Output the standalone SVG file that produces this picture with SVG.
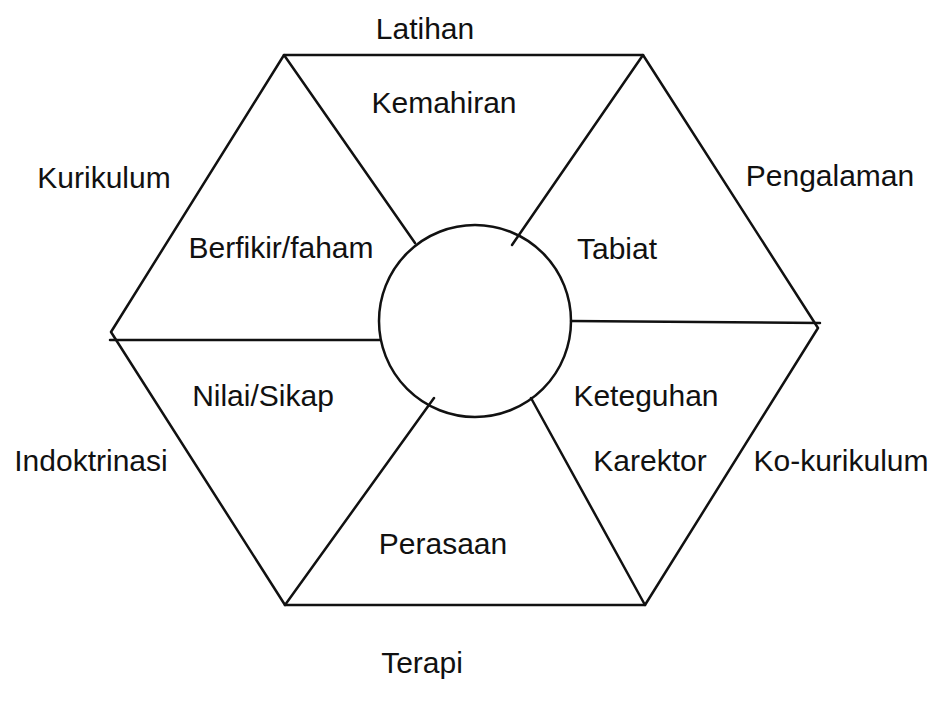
<svg xmlns="http://www.w3.org/2000/svg" width="947" height="704" viewBox="0 0 947 704">
<style>
.ln{stroke:#111;stroke-width:2.5;fill:none;stroke-linecap:round;stroke-linejoin:round}
.t{font-family:"Liberation Sans",Arial,sans-serif;font-size:30px;fill:#111;text-anchor:middle}
</style>
<rect width="947" height="704" fill="#fff"/>
<g id="hexagon">
<polygon class="ln" points="284,55 643,55 818,328 645,605 285,605 111,332"/>
</g>
<g id="centre">
<circle class="ln" cx="475" cy="321" r="96"/>
</g>
<g id="connectors">
<line class="ln" x1="284" y1="55" x2="415" y2="243"/>
<line class="ln" x1="643" y1="55" x2="512" y2="245"/>
<line class="ln" x1="571" y1="321" x2="820" y2="323"/>
<line class="ln" x1="110" y1="340" x2="380" y2="340"/>
<line class="ln" x1="285" y1="605" x2="434" y2="398"/>
<line class="ln" x1="645" y1="605" x2="531" y2="398"/>
</g>
<g id="labels-outer">
<text class="t" x="425" y="39">Latihan</text>
<text class="t" x="104" y="188">Kurikulum</text>
<text class="t" x="830" y="186">Pengalaman</text>
<text class="t" x="91" y="471">Indoktrinasi</text>
<text class="t" x="841" y="471">Ko-kurikulum</text>
<text class="t" x="422" y="673">Terapi</text>
</g>
<g id="labels-inner">
<text class="t" x="444" y="113">Kemahiran</text>
<text class="t" x="281" y="258">Berfikir/faham</text>
<text class="t" x="617" y="259">Tabiat</text>
<text class="t" x="263" y="406">Nilai/Sikap</text>
<text class="t" x="646" y="406">Keteguhan</text>
<text class="t" x="650" y="471">Karektor</text>
<text class="t" x="443" y="554">Perasaan</text>
</g>
</svg>
